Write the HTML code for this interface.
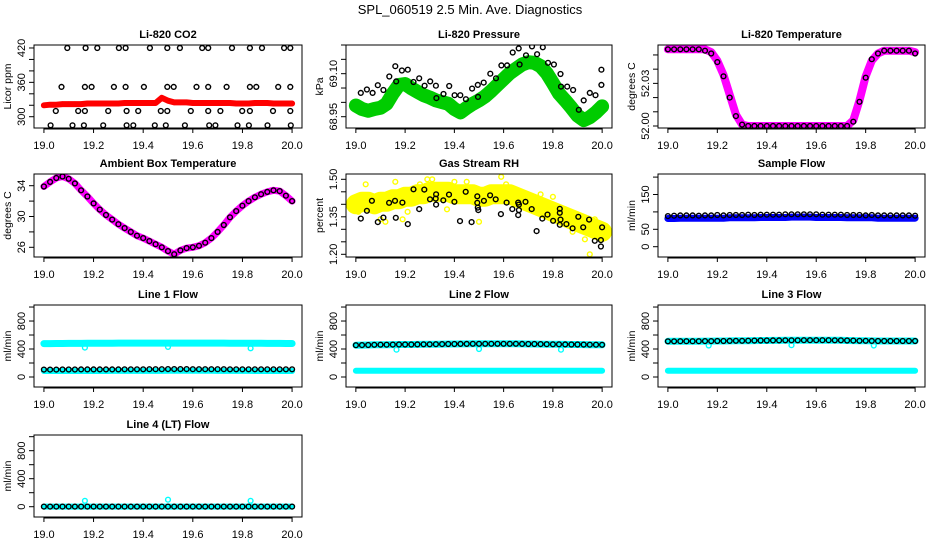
<!DOCTYPE html>
<html><head><meta charset="utf-8"><style>
html,body{margin:0;padding:0;background:#fff}
svg{display:block;font-family:"Liberation Sans",Arial,sans-serif}
</style></head><body>
<svg id="chart" width="936" height="540" viewBox="0 0 936 540" xmlns="http://www.w3.org/2000/svg">
<rect width="936" height="540" fill="#fff"/>
<text x="470" y="14" font-size="13" text-anchor="middle">SPL_060519  2.5 Min. Ave. Diagnostics</text>
</svg>
<script>
// shared time grid (hours)
const tGrid = [19.0,19.025,19.05,19.075,19.1,19.125,19.15,19.175,19.2,19.225,19.25,19.275,19.3,19.325,19.35,19.375,19.4,19.425,19.45,19.475,19.5,19.525,19.55,19.575,19.6,19.625,19.65,19.675,19.7,19.725,19.75,19.775,19.8,19.825,19.85,19.875,19.9,19.925,19.95,19.975,20.0];
const xTicks = [19.0,19.2,19.4,19.6,19.8,20.0];
const xTickLabels = ["19.0","19.2","19.4","19.6","19.8","20.0"];

// CO2
const co2Red = [320,321,321,322,322,322,322,323,323,323,323,323,323,324,324,324,324,324,324,333,328,325,325,325,324,324,324,324,324,324,324,323,323,323,324,324,324,323,323,323,323];
const co2BlackT = [19.094,19.168,19.215,19.302,19.329,19.427,19.497,19.548,19.638,19.662,19.758,19.830,19.879,19.968,19.993,
 19.071,19.165,19.192,19.282,19.329,19.403,19.497,19.523,19.615,19.662,19.736,19.830,19.856,19.944,19.993,
 19.048,19.138,19.165,19.259,19.333,19.380,19.471,19.497,19.592,19.662,19.711,19.799,19.830,19.923,19.993,
 19.027,19.115,19.161,19.239,19.333,19.360,19.447,19.491,19.568,19.666,19.691,19.780,19.826,19.901,19.995];
const co2BlackV = [420,420,420,420,420,420,420,420,420,420,420,420,420,420,420,
 352,352,352,352,352,352,352,352,352,352,352,352,352,352,352,
 310,310,310,310,310,310,310,310,310,310,310,310,310,310,310,
 285,285,285,285,285,285,285,285,285,285,285,285,285,285,285];

// Pressure
const presGreen = [68.989,68.977,68.971,68.977,68.981,68.995,69.031,69.061,69.064,69.049,69.037,69.025,69.017,69.007,69.001,68.995,68.977,68.965,68.981,68.995,69.007,69.021,69.040,69.061,69.081,69.102,69.117,69.132,69.140,69.138,69.126,69.102,69.067,69.031,69.007,68.981,68.954,68.938,68.948,68.965,68.986];
const presBlackT = [19.020,19.045,19.068,19.089,19.112,19.136,19.160,19.164,19.187,19.211,19.234,19.257,19.279,19.302,19.325,19.327,19.356,19.379,19.401,19.424,19.447,19.472,19.495,19.496,19.519,19.546,19.569,19.591,19.614,19.637,19.661,19.665,19.691,19.715,19.736,19.759,19.780,19.804,19.831,19.833,19.858,19.882,19.905,19.925,19.950,19.973,19.997,19.997];
const presBlackV = [69.033,69.045,69.033,69.060,69.043,69.090,69.126,69.073,69.111,69.114,69.071,69.084,69.058,69.073,69.058,69.015,69.029,69.057,69.025,69.025,69.011,69.048,69.061,69.019,69.069,69.100,69.084,69.129,69.129,69.174,69.188,69.132,69.164,69.195,69.168,69.192,69.138,69.132,69.099,69.055,69.055,69.043,68.974,69.007,69.033,69.025,69.114,69.061];

// Li-820 temperature
const liTemp = [52.054,52.054,52.054,52.054,52.054,52.054,52.054,52.052,52.046,52.036,52.022,52.008,52.001,52.0,52.0,52.0,52.0,52.0,52.0,52.0,52.0,52.0,52.0,52.0,52.0,52.0,52.0,52.0,52.0,52.0,52.004,52.018,52.035,52.046,52.051,52.053,52.053,52.053,52.053,52.053,52.052];
const liTempBlack = [52.054,52.054,52.054,52.054,52.054,52.054,52.053,52.051,52.045,52.035,52.020,52.007,52.001,52.0,52.0,52.0,52.0,52.0,52.0,52.0,52.0,52.0,52.0,52.0,52.0,52.0,52.0,52.0,52.0,52.0,52.003,52.017,52.034,52.047,52.051,52.053,52.053,52.053,52.053,52.053,52.051];

// Ambient box temperature
const ambTemp = [33.9,34.5,35.0,35.2,34.9,34.3,33.4,32.6,31.7,30.9,30.2,29.6,29.0,28.5,28.0,27.5,27.2,26.8,26.4,26.0,25.5,25.1,25.6,25.9,26.0,26.2,26.6,27.2,28.0,28.9,29.9,30.7,31.4,32.0,32.5,32.9,33.2,33.4,33.3,32.7,32.0];

// Gas stream RH
const rhYellow = [1.40,1.41,1.41,1.40,1.41,1.41,1.42,1.42,1.43,1.43,1.44,1.44,1.45,1.45,1.45,1.45,1.44,1.44,1.44,1.44,1.43,1.43,1.44,1.44,1.44,1.44,1.43,1.42,1.41,1.40,1.39,1.38,1.37,1.36,1.35,1.34,1.33,1.32,1.31,1.30,1.29];
const rhYOutT = [19.01,19.04,19.10,19.12,19.16,19.19,19.21,19.26,19.29,19.31,19.37,19.40,19.45,19.50,19.59,19.61,19.75,19.80,19.85,19.88,19.93,19.95,19.97];
const rhYOutV = [1.37,1.48,1.34,1.33,1.49,1.34,1.37,1.48,1.50,1.50,1.38,1.49,1.49,1.33,1.51,1.48,1.44,1.43,1.38,1.29,1.26,1.20,1.34];
const rhBlackT = [19.020,19.045,19.065,19.089,19.112,19.135,19.159,19.162,19.189,19.211,19.234,19.257,19.278,19.301,19.324,19.326,19.326,19.355,19.378,19.400,19.423,19.446,19.470,19.493,19.493,19.495,19.497,19.520,19.545,19.568,19.589,19.612,19.635,19.659,19.659,19.662,19.662,19.689,19.714,19.734,19.757,19.778,19.801,19.828,19.828,19.828,19.831,19.855,19.880,19.903,19.923,19.947,19.970,19.995,19.995,20.0];
const rhBlackV = [1.343,1.374,1.414,1.329,1.347,1.406,1.414,1.346,1.407,1.321,1.460,1.381,1.459,1.420,1.423,1.440,1.399,1.416,1.439,1.410,1.333,1.450,1.329,1.432,1.406,1.387,1.377,1.414,1.436,1.420,1.361,1.407,1.381,1.407,1.357,1.377,1.399,1.410,1.381,1.293,1.343,1.359,1.334,1.382,1.366,1.318,1.339,1.321,1.304,1.350,1.308,1.339,1.254,1.257,1.231,1.308];

// Sample flow
const sfBlue = [81,81,82,82,82,82,82,82,82,82,83,83,83,83,83,84,84,84,84,84,85,85,85,85,84,84,84,84,84,83,83,83,83,83,82,82,82,82,82,82,82];
const sfBlack = [88,89,90,90,90,89,90,90,91,90,91,91,91,92,91,92,92,92,92,93,93,93,93,93,93,92,92,92,92,91,91,91,90,91,90,90,90,90,90,90,89];

// Line flows
const l1High = [478,478,479,479,480,480,480,481,481,482,482,483,484,485,485,485,485,485,485,485,485,485,485,485,485,485,485,485,485,484,483,483,482,482,481,481,480,480,480,479,479];
const l1Low = [85,85,85,86,86,86,86,86,86,86,86,87,87,87,87,87,87,87,87,87,88,88,88,88,88,88,88,88,87,87,87,87,87,87,86,86,86,86,86,86,86];
const l1Black = [105,106,106,107,107,107,108,108,108,108,108,109,109,110,110,110,110,111,111,112,113,113,113,113,112,112,112,112,111,111,110,110,110,110,110,110,110,110,110,110,110];
const l2High = [455,456,458,460,461,462,463,464,464,465,466,467,468,469,470,471,472,473,473,474,475,475,475,475,475,474,474,473,472,471,470,469,468,467,466,465,464,463,462,461,460];
const l2Low = [88,88,88,88,89,89,89,89,89,90,90,90,90,90,90,90,90,90,90,90,90,90,90,90,90,90,90,90,90,90,90,90,89,89,89,89,89,89,89,89,89];
const l3High = [510,510,511,511,512,512,513,513,514,515,516,517,518,519,520,521,522,523,523,524,525,525,526,526,526,526,526,525,524,522,520,518,517,516,515,515,515,515,515,515,515];
const l3Low = [88,88,88,89,89,89,89,89,89,90,90,90,90,90,90,90,90,90,90,90,90,90,90,90,90,90,90,90,90,90,90,90,89,89,89,89,89,89,89,89,89];
const l4Vals = [2,2,2,2,2,2,2,2,2,2,2,2,2,2,2,2,2,2,2,2,2,2,2,2,2,2,2,2,2,2,2,2,2,2,2,2,2,2,2,2,2];
const dipT = [19.165,19.5,19.833];
const l1Dip = [420,430,410];
const l2Dip = [390,400,390];
const l3Dip = [450,455,450];
const l4Spike = [85,100,85];

const NS = "http://www.w3.org/2000/svg";
const svg = document.getElementById("chart");
const cols = [[34,302],[346,612],[658,925]];
const rows = [[45,128],[174,257],[305,387],[435,517]];

function mk(tag, attrs, parent) {
  const e = document.createElementNS(NS, tag);
  for (const k in attrs) e.setAttribute(k, attrs[k]);
  (parent || svg).appendChild(e);
  return e;
}

function panel(cfg) {
  const [x0, x1] = cols[cfg.col], [y0, y1] = rows[cfg.row];
  const g = mk("g", {});
  
  
  const xs = v => x0 + (v - 18.96) / 1.08 * (x1 - x0);
  const ys = v => y1 - (v - cfg.dom[0]) / (cfg.dom[1] - cfg.dom[0]) * (y1 - y0);
  const clip = "clip-" + cfg.name;
  const cp = mk("clipPath", {id: clip}, g);
  mk("rect", {x: x0, y: y0, width: x1 - x0, height: y1 - y0}, cp);
  const plot = mk("g", {"clip-path": "url(#" + clip + ")"}, g);
  
  
  cfg.series.forEach(s => {
    const sg = mk("g", {}, plot);
    
    
    const T = s.t, V = s.v;
    if (s.band) {
      const pts = T.map((t, i) => xs(t).toFixed(1) + "," + ys(V[i]).toFixed(1)).join(" ");
      mk("polyline", {points: pts, fill: "none", stroke: s.color, "stroke-width": s.band, "stroke-linejoin": "round", "stroke-linecap": "round"}, sg);
    }
    if (s.pts !== false) {
      T.forEach((t, i) => {
        const c = mk("circle", {cx: xs(t).toFixed(1), cy: ys(V[i]).toFixed(1), r: s.r || 2.4, fill: "none", stroke: s.color, "stroke-width": 1.4}, sg);
        
        
      });
    }
  });
  mk("rect", {x: x0, y: y0, width: x1 - x0, height: y1 - y0, fill: "none", stroke: "#000", "stroke-width": 1}, g);
  // x axis
  const xa = mk("g", {}, g);
  
  
  mk("line", {x1: xs(xTicks[0]), x2: xs(xTicks[xTicks.length - 1]), y1: y1 + 1, y2: y1 + 1, stroke: "#000"}, xa);
  xTicks.forEach((t, i) => {
    mk("line", {x1: xs(t), x2: xs(t), y1: y1, y2: y1 + 5, stroke: "#000"}, xa);
    const tx = mk("text", {x: xs(t), y: y1 + 21, "font-size": 11, "text-anchor": "middle"}, xa);
    tx.textContent = xTickLabels[i];
    
    
  });
  // y axis
  const ya = mk("g", {}, g);
  
  
  cfg.ticks.forEach(v => {
    mk("line", {x1: x0 - 5, x2: x0, y1: ys(v), y2: ys(v), stroke: "#000"}, ya);
  });
  cfg.labels.forEach((lab, i) => {
    const yy = ys(cfg.labelVals[i]), xx = x0 - 9;
    const tx = mk("text", {x: xx, y: yy, "font-size": 11, "text-anchor": "middle", transform: "rotate(-90 " + xx + " " + yy + ")"}, ya);
    tx.textContent = lab;
    
    
  });
  const ylx = x0 - 23, yly = (y0 + y1) / 2;
  const yl = mk("text", {x: ylx, y: yly, "font-size": 10.5, "text-anchor": "middle", transform: "rotate(-90 " + ylx + " " + yly + ")"}, g);
  yl.textContent = cfg.ylab;
  
  
  const tt = mk("text", {x: (x0 + x1) / 2, y: y0 - 7, "font-size": 11, "font-weight": "bold", "text-anchor": "middle"}, g);
  tt.textContent = cfg.title;
  
  
}

const flowTicks = [0,200,400,600,800,1000];
panel({name:"co2", col:0, row:0, dom:[280.3,425.2], title:"Li-820 CO2", ylab:"Licor ppm",
  ticks:[300,320,340,360,380,400,420], labels:["300","360","420"], labelVals:[300,360,420],
  series:[{name:"co2-red-series", t:tGrid, v:co2Red, color:"#ff0000", band:6, r:2},
          {name:"co2-black-points", t:co2BlackT, v:co2BlackV, color:"#000"}]});
panel({name:"pressure", col:1, row:0, dom:[68.9106,69.20], title:"Li-820 Pressure", ylab:"kPa",
  ticks:[68.95,69.0,69.05,69.10,69.15,69.20], labels:["68.95","69.10"], labelVals:[68.95,69.10],
  series:[{name:"pressure-green-series", t:tGrid, v:presGreen, color:"#00cc00", band:14, r:3},
          {name:"pressure-black-points", t:presBlackT, v:presBlackV, color:"#000"}]});
panel({name:"li-temp", col:2, row:0, dom:[51.9986,52.0570], title:"Li-820 Temperature", ylab:"degrees C",
  ticks:[52.0,52.01,52.02,52.03,52.04,52.05], labels:["52.00","52.03"], labelVals:[52.0,52.03],
  series:[{name:"li-temp-magenta-series", t:tGrid, v:liTemp, color:"#ff00ff", band:8, r:2.5},
          {name:"li-temp-black-points", t:tGrid, v:liTempBlack, color:"#000"}]});
panel({name:"ambient", col:0, row:1, dom:[24.74,35.52], title:"Ambient Box Temperature", ylab:"degrees C",
  ticks:[26,28,30,32,34], labels:["26","30","34"], labelVals:[26,30,34],
  series:[{name:"ambient-magenta-series", t:tGrid, v:ambTemp, color:"#ff00ff", band:7, pts:false},
          {name:"ambient-black-points", t:tGrid, v:ambTemp, color:"#000"}]});
panel({name:"rh", col:1, row:1, dom:[1.1892,1.5212], title:"Gas Stream RH", ylab:"percent",
  ticks:[1.20,1.25,1.30,1.35,1.40,1.45,1.50], labels:["1.20","1.35","1.50"], labelVals:[1.20,1.35,1.50],
  series:[{name:"rh-yellow-series", t:tGrid, v:rhYellow, color:"#ffff00", band:20, pts:false},
          {name:"rh-yellow-points", t:rhYOutT, v:rhYOutV, color:"#ffff00"},
          {name:"rh-black-points", t:rhBlackT, v:rhBlackV, color:"#000"}]});
panel({name:"sample-flow", col:2, row:1, dom:[-29.6,208.9], title:"Sample Flow", ylab:"ml/min",
  ticks:[0,50,100,150,200], labels:["0","50","150"], labelVals:[0,50,150],
  series:[{name:"sample-flow-blue-series", t:tGrid, v:sfBlue, color:"#0000ff", band:7, pts:false},
          {name:"sample-flow-black-points", t:tGrid, v:sfBlack, color:"#000"}]});
panel({name:"line1", col:0, row:2, dom:[-143,1029], title:"Line 1 Flow", ylab:"ml/min",
  ticks:flowTicks, labels:["0","400","800"], labelVals:[0,400,800],
  series:[{name:"line1-cyan-high", t:tGrid, v:l1High, color:"#00ffff", band:7, pts:false},
          {name:"line1-cyan-low", t:tGrid, v:l1Low, color:"#00ffff", band:6, pts:false},
          {name:"line1-cyan-dips", t:dipT, v:l1Dip, color:"#00ffff"},
          {name:"line1-black-points", t:tGrid, v:l1Black, color:"#000"}]});
panel({name:"line2", col:1, row:2, dom:[-143,1029], title:"Line 2 Flow", ylab:"ml/min",
  ticks:flowTicks, labels:["0","400","800"], labelVals:[0,400,800],
  series:[{name:"line2-cyan-high", t:tGrid, v:l2High, color:"#00ffff", band:7, pts:false},
          {name:"line2-cyan-low", t:tGrid, v:l2Low, color:"#00ffff", band:6, pts:false},
          {name:"line2-cyan-dips", t:dipT, v:l2Dip, color:"#00ffff"},
          {name:"line2-black-points", t:tGrid, v:l2High, color:"#000"}]});
panel({name:"line3", col:2, row:2, dom:[-143,1029], title:"Line 3 Flow", ylab:"ml/min",
  ticks:flowTicks, labels:["0","400","800"], labelVals:[0,400,800],
  series:[{name:"line3-cyan-high", t:tGrid, v:l3High, color:"#00ffff", band:7, pts:false},
          {name:"line3-cyan-low", t:tGrid, v:l3Low, color:"#00ffff", band:6, pts:false},
          {name:"line3-cyan-dips", t:dipT, v:l3Dip, color:"#00ffff"},
          {name:"line3-black-points", t:tGrid, v:l3High, color:"#000"}]});
panel({name:"line4", col:0, row:3, dom:[-147,1024], title:"Line 4 (LT) Flow", ylab:"ml/min",
  ticks:flowTicks, labels:["0","400","800"], labelVals:[0,400,800],
  series:[{name:"line4-cyan-series", t:tGrid, v:l4Vals, color:"#00ffff", band:6, pts:false},
          {name:"line4-cyan-spikes", t:dipT, v:l4Spike, color:"#00ffff"},
          {name:"line4-black-points", t:tGrid, v:l4Vals, color:"#000"}]});
</script>
</body></html>
